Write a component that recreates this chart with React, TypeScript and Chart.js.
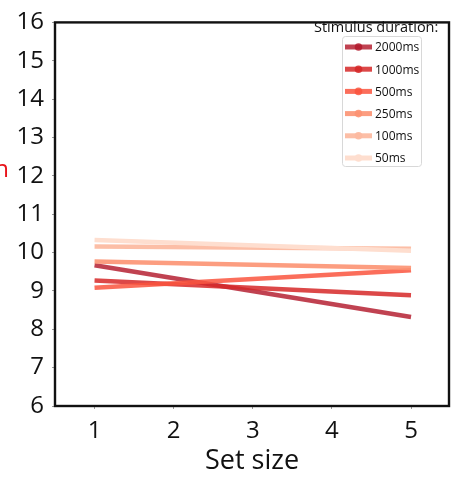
import React, { useEffect, useRef } from "react";
import { Chart, registerables } from "chart.js";

Chart.register(...registerables);

const setSizes = [1, 5];
const durationLabels = ["2000ms", "1000ms", "500ms", "250ms", "100ms", "50ms"];
const series2000 = [9.67, 8.32];
const series1000 = [9.27, 8.89];
const series500 = [9.08, 9.54];
const series250 = [9.77, 9.6];
const series100 = [10.16, 10.1];
const series50 = [10.33, 10.05];
const seriesColors = [
  "rgba(178,24,43,0.82)",
  "rgba(214,40,40,0.85)",
  "rgba(250,85,62,0.85)",
  "rgba(252,146,114,0.9)",
  "rgba(252,187,161,0.95)",
  "rgba(254,222,207,1)",
];
const yTicks = [6, 7, 8, 9, 10, 11, 12, 13, 14, 15, 16];
const xTicks = [1, 2, 3, 4, 5];
const legendTitle = "Stimulus duration:";
const xTitle = "Set size";

const FONT = "'Open Sans', sans-serif";

export default function App() {
  const ref = useRef<HTMLCanvasElement>(null);
  useEffect(() => {
    if (!ref.current) return;
    const all = [series2000, series1000, series500, series250, series100, series50];
    const datasets = all.map((vals, i) => ({
      label: durationLabels[i],
      data: setSizes.map((x, j) => ({ x, y: vals[j] })),
      borderColor: seriesColors[i],
      backgroundColor: seriesColors[i],
      borderWidth: 4.5,
      pointRadius: 0,
      tension: 0,
    }));
    const ordered = datasets.slice().reverse();

    const framePlugin = {
      id: "frame",
      afterDraw(chart: any) {
        const { ctx, chartArea } = chart;
        ctx.save();
        ctx.strokeStyle = "#111";
        ctx.lineWidth = 2.4;
        ctx.strokeRect(chartArea.left, chartArea.top, chartArea.right - chartArea.left, chartArea.bottom - chartArea.top);

        ctx.fillStyle = "#e8141b";
        ctx.font = `24px ${FONT}`;
        ctx.textAlign = "right";
        ctx.textBaseline = "alphabetic";
        ctx.fillText("n", 9, 177);

        ctx.fillStyle = "#111";
        ctx.font = `14.5px ${FONT}`;
        ctx.textAlign = "left";
        ctx.textBaseline = "middle";
        ctx.fillText(legendTitle, 314, 28);

        const bx = 342, by = 36, bw = 79, bh = 130;
        ctx.strokeStyle = "#d8d8d8";
        ctx.lineWidth = 1;
        ctx.beginPath();
        (ctx as any).roundRect(bx + 0.5, by + 0.5, bw, bh, 3);
        ctx.stroke();

        ctx.font = `12px ${FONT}`;
        durationLabels.forEach((lab, i) => {
          const y = 47 + i * 22.2;
          ctx.strokeStyle = seriesColors[i];
          ctx.lineWidth = 5;
          ctx.beginPath();
          ctx.moveTo(345, y);
          ctx.lineTo(372, y);
          ctx.stroke();
          ctx.fillStyle = seriesColors[i];
          ctx.beginPath();
          ctx.arc(358.5, y, 3.8, 0, Math.PI * 2);
          ctx.fill();
          ctx.fillStyle = "#111";
          ctx.fillText(lab, 375, y + 1);
        });
        ctx.restore();
      },
    };

    const chart = new Chart(ref.current, {
      type: "line",
      data: { datasets: ordered as any },
      options: {
        animation: false,
        responsive: false,
        maintainAspectRatio: false,
        layout: { padding: { top: 14, right: 8, left: 0, bottom: 0 } },
        plugins: { legend: { display: false }, tooltip: { enabled: false } },
        scales: {
          x: {
            type: "linear",
            min: 0.5,
            max: 5.48,
            afterBuildTicks: (s: any) => {
              s.ticks = xTicks.map((v) => ({ value: v }));
            },
            afterFit: (s: any) => {
              s.height = 72;
            },
            grid: { drawOnChartArea: false, drawTicks: true, tickLength: 3, color: "#999" },
            border: { display: false },
            ticks: { color: "#111", font: { family: FONT, size: 24 }, padding: 8, maxRotation: 0 },
            title: {
              display: true,
              text: xTitle,
              color: "#111",
              font: { family: FONT, size: 27 },
              padding: { top: 0, bottom: 0 },
            },
          },
          y: {
            type: "linear",
            min: 6,
            max: 16,
            afterBuildTicks: (s: any) => {
              s.ticks = yTicks.map((v) => ({ value: v }));
            },
            afterFit: (s: any) => {
              s.width = 55;
            },
            grid: { drawOnChartArea: false, drawTicks: true, tickLength: 3, color: "#999" },
            border: { display: false },
            ticks: { color: "#111", font: { family: FONT, size: 24 }, padding: 8 },
          },
        },
      },
      plugins: [framePlugin],
    });
    return () => chart.destroy();
  }, []);

  return (
    <div style={{ position: "fixed", left: 0, top: 0, width: 457, height: 478, background: "#fff" }}>
      <canvas ref={ref} width={457} height={478} style={{ width: 457, height: 478 }} />
    </div>
  );
}
